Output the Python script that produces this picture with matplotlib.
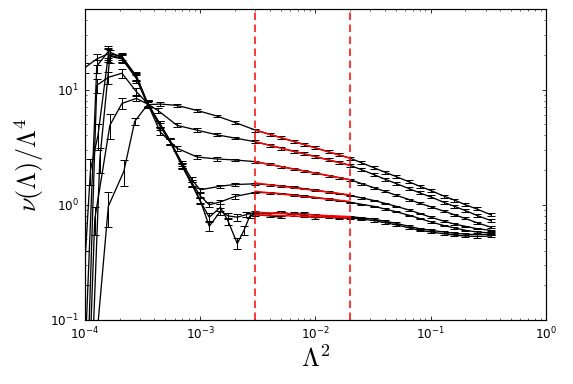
import matplotlib
matplotlib.use("Agg")
import matplotlib.pyplot as plt
import numpy as np

# shared Lambda^2 grid for the smooth (large Lambda) part of every curve
x_right = [3e-3, 4e-3, 5e-3, 6.5e-3, 8e-3, 1e-2, 1.3e-2, 1.6e-2, 2e-2, 2.5e-2, 3.2e-2,
           4e-2, 5e-2, 6.5e-2, 8e-2, 0.1, 0.13, 0.16, 0.2, 0.25, 0.33]

# curve 1 (top at large Lambda)
c1_x = [1.27e-4, 1.6e-4, 2.18e-4, 2.71e-4, 3.5e-4, 4.5e-4, 6.3e-4, 9.4e-4, 1.4e-3, 2e-3]
c1_y = [0.07, 0.97, 1.95, 5.3, 7.4, 7.5, 7.3, 6.6, 5.9, 5.2]
c1_e = [0.02, 0.33, 0.5, 0.35, 0.4, 0.3, 0.25, 0.2, 0.15, 0.12]
c1_r = [4.46, 4.10, 3.83, 3.55, 3.33, 3.12, 2.88, 2.71, 2.54, 2.32, 2.10,
        1.92, 1.76, 1.58, 1.45, 1.33, 1.19, 1.10, 1.00, 0.92, 0.82]

# curve 2
c2_x = [1.12e-4, 1.22e-4, 1.65e-4, 2.1e-4, 2.8e-4, 3.5e-4, 4.3e-4, 6.3e-4, 9.4e-4, 1.4e-3, 2e-3]
c2_y = [0.07, 0.75, 4.9, 7.6, 8.4, 7.5, 6.6, 4.9, 4.45, 4.05, 3.8]
c2_e = [0.02, 0.2, 1.2, 0.8, 0.5, 0.4, 0.3, 0.2, 0.15, 0.12, 0.1]
c2_r = [3.53, 3.29, 3.11, 2.91, 2.77, 2.62, 2.45, 2.33, 2.20, 2.02, 1.83,
        1.67, 1.53, 1.38, 1.27, 1.17, 1.05, 0.97, 0.89, 0.81, 0.73]

# curve 3
c3_x = [1.08e-4, 1.27e-4, 1.6e-4, 2.1e-4, 2.8e-4, 3.5e-4, 4.5e-4, 6.3e-4, 9.4e-4, 1.4e-3, 2e-3]
c3_y = [0.07, 10.9, 12.8, 13.9, 9.6, 7.6, 4.3, 3.1, 2.6, 2.5, 2.45]
c3_e = [0.02, 1.5, 1.5, 1.2, 0.8, 0.5, 0.3, 0.15, 0.1, 0.08, 0.07]
c3_r = [2.37, 2.24, 2.15, 2.04, 1.97, 1.88, 1.79, 1.72, 1.65, 1.53, 1.41,
        1.31, 1.21, 1.11, 1.03, 0.96, 0.88, 0.82, 0.76, 0.70, 0.64]

# curve 4
c4_x = [1.0e-4, 1.27e-4, 1.6e-4, 2.1e-4, 2.8e-4, 3.5e-4, 4.5e-4, 5.5e-4, 7e-4, 8.5e-4,
        1e-3, 1.5e-3, 2e-3]
c4_y = [15.5, 18.5, 20.5, 19.5, 13.0, 7.6, 4.8, 3.5, 2.3, 1.65, 1.35, 1.45, 1.5]
c4_e = [1.5, 2.0, 2.5, 1.5, 1.0, 0.5, 0.3, 0.2, 0.12, 0.08, 0.06, 0.05, 0.05]
c4_r = [1.52, 1.49, 1.46, 1.42, 1.38, 1.34, 1.29, 1.25, 1.20, 1.15, 1.09,
        1.03, 0.97, 0.90, 0.84, 0.78, 0.72, 0.68, 0.65, 0.62, 0.60]

# curve 5
c5_x = [1.02e-4, 1.27e-4, 1.6e-4, 2.1e-4, 2.8e-4, 3.5e-4, 4.5e-4, 5.5e-4, 7e-4, 8.5e-4,
        1e-3, 1.2e-3, 1.5e-3, 2e-3]
c5_y = [0.07, 16.0, 21.5, 19.0, 13.2, 7.7, 5.0, 3.6, 2.2, 1.55, 1.2, 1.0, 1.06, 1.18]
c5_e = [0.02, 2.0, 2.5, 1.5, 1.0, 0.5, 0.3, 0.2, 0.12, 0.08, 0.06, 0.05, 0.05, 0.05]
c5_r = [1.28, 1.27, 1.25, 1.22, 1.19, 1.16, 1.12, 1.09, 1.05, 1.01, 0.97,
        0.92, 0.87, 0.81, 0.76, 0.71, 0.66, 0.63, 0.60, 0.58, 0.57]

# curve 6
c6_x = [1.0e-4, 1.12e-4, 1.3e-4, 1.6e-4, 2.1e-4, 2.8e-4, 3.5e-4, 4.5e-4, 5.5e-4, 7e-4,
        8.5e-4, 1e-3, 1.2e-3, 1.5e-3, 1.75e-3, 2.1e-3, 2.5e-3]
c6_y = [0.3, 2.0, 4.0, 20.0, 18.8, 12.8, 7.5, 5.0, 3.6, 2.2, 1.5, 1.1, 0.65, 0.88,
        0.8, 0.78, 0.82]
c6_e = [0.1, 0.5, 1.0, 2.5, 1.5, 1.0, 0.5, 0.3, 0.2, 0.12, 0.08, 0.06, 0.06, 0.06,
        0.05, 0.05, 0.04]
c6_r = [0.86, 0.83, 0.87, 0.82, 0.84, 0.81, 0.80, 0.79, 0.79, 0.77, 0.75,
        0.72, 0.69, 0.65, 0.62, 0.60, 0.58, 0.565, 0.555, 0.55, 0.555]

# curve 7
c7_x = [1.18e-4, 1.35e-4, 1.65e-4, 2.1e-4, 2.8e-4, 3.5e-4, 4.5e-4, 5.5e-4, 7e-4, 8.5e-4,
        1e-3, 1.2e-3, 1.5e-3, 1.75e-3, 2.1e-3, 2.4e-3, 2.7e-3]
c7_y = [0.07, 2.5, 19.5, 18.5, 12.5, 7.4, 5.0, 3.5, 2.15, 1.5, 1.08, 0.78, 0.95,
        0.72, 0.46, 0.6, 0.8]
c7_e = [0.02, 0.6, 2.5, 1.5, 1.0, 0.5, 0.3, 0.2, 0.12, 0.08, 0.06, 0.06, 0.06,
        0.05, 0.05, 0.05, 0.04]
c7_r = [0.82, 0.80, 0.78, 0.85, 0.80, 0.77, 0.79, 0.76, 0.77, 0.75, 0.73,
        0.70, 0.67, 0.63, 0.60, 0.58, 0.56, 0.545, 0.535, 0.53, 0.535]

# relative error on the smooth part of each curve
right_err = [0.03, 0.03, 0.02, 0.015, 0.015, 0.02, 0.02]

# fit window
fit_lo = 0.003
fit_hi = 0.02

curves = [(c1_x, c1_y, c1_e, c1_r), (c2_x, c2_y, c2_e, c2_r), (c3_x, c3_y, c3_e, c3_r),
          (c4_x, c4_y, c4_e, c4_r), (c5_x, c5_y, c5_e, c5_r), (c6_x, c6_y, c6_e, c6_r),
          (c7_x, c7_y, c7_e, c7_r)]

plt.rcParams['mathtext.fontset'] = 'cm'
plt.rcParams['xtick.direction'] = 'in'
plt.rcParams['ytick.direction'] = 'in'
plt.rcParams['xtick.top'] = True
plt.rcParams['ytick.right'] = True
plt.rcParams['xtick.major.size'] = 4
plt.rcParams['ytick.major.size'] = 4
plt.rcParams['xtick.minor.size'] = 2
plt.rcParams['ytick.minor.size'] = 2
plt.rcParams['xtick.major.pad'] = 6
plt.rcParams['ytick.major.pad'] = 6
plt.rcParams['axes.linewidth'] = 1.2

fig = plt.figure(figsize=(573 / 72, 384 / 72), dpi=72)
ax = fig.add_axes([0.148, 0.167, 0.805, 0.809])

for i, (cx, cy, ce, cr) in enumerate(curves):
    x = np.array(cx + x_right)
    y = np.array(cy + cr)
    err = np.array(ce + [v * right_err[i] for v in cr])
    ax.errorbar(x, y, yerr=err, color='k', lw=1.3, elinewidth=1, capsize=4, capthick=1)

for i, (cx, cy, ce, cr) in enumerate(curves):
    # power-law fit inside the window
    r = np.array(cr)
    xr = np.array(x_right)
    sel = (xr >= fit_lo) & (xr <= fit_hi)
    b, a = np.polyfit(np.log(xr[sel]), np.log(r[sel]), 1)
    xf = np.array([fit_lo, fit_hi])
    ax.plot(xf, np.exp(a + b * np.log(xf)), color='r', lw=1.5, zorder=5)

ax.axvline(fit_lo, color='r', ls='--', lw=1.5, dashes=(5, 3), zorder=6)
ax.axvline(fit_hi, color='r', ls='--', lw=1.5, dashes=(5, 3), zorder=6)

ax.set_xscale('log')
ax.set_yscale('log')
ax.set_xlim(1e-4, 1)
ax.set_ylim(0.1, 50)
ax.tick_params(labelsize=12)
ax.set_xlabel(r'$\Lambda^2$', fontsize=26)
ax.set_ylabel(r'$\nu(\Lambda)/\Lambda^4$', fontsize=26)

fig.savefig('out.png', dpi=72)
